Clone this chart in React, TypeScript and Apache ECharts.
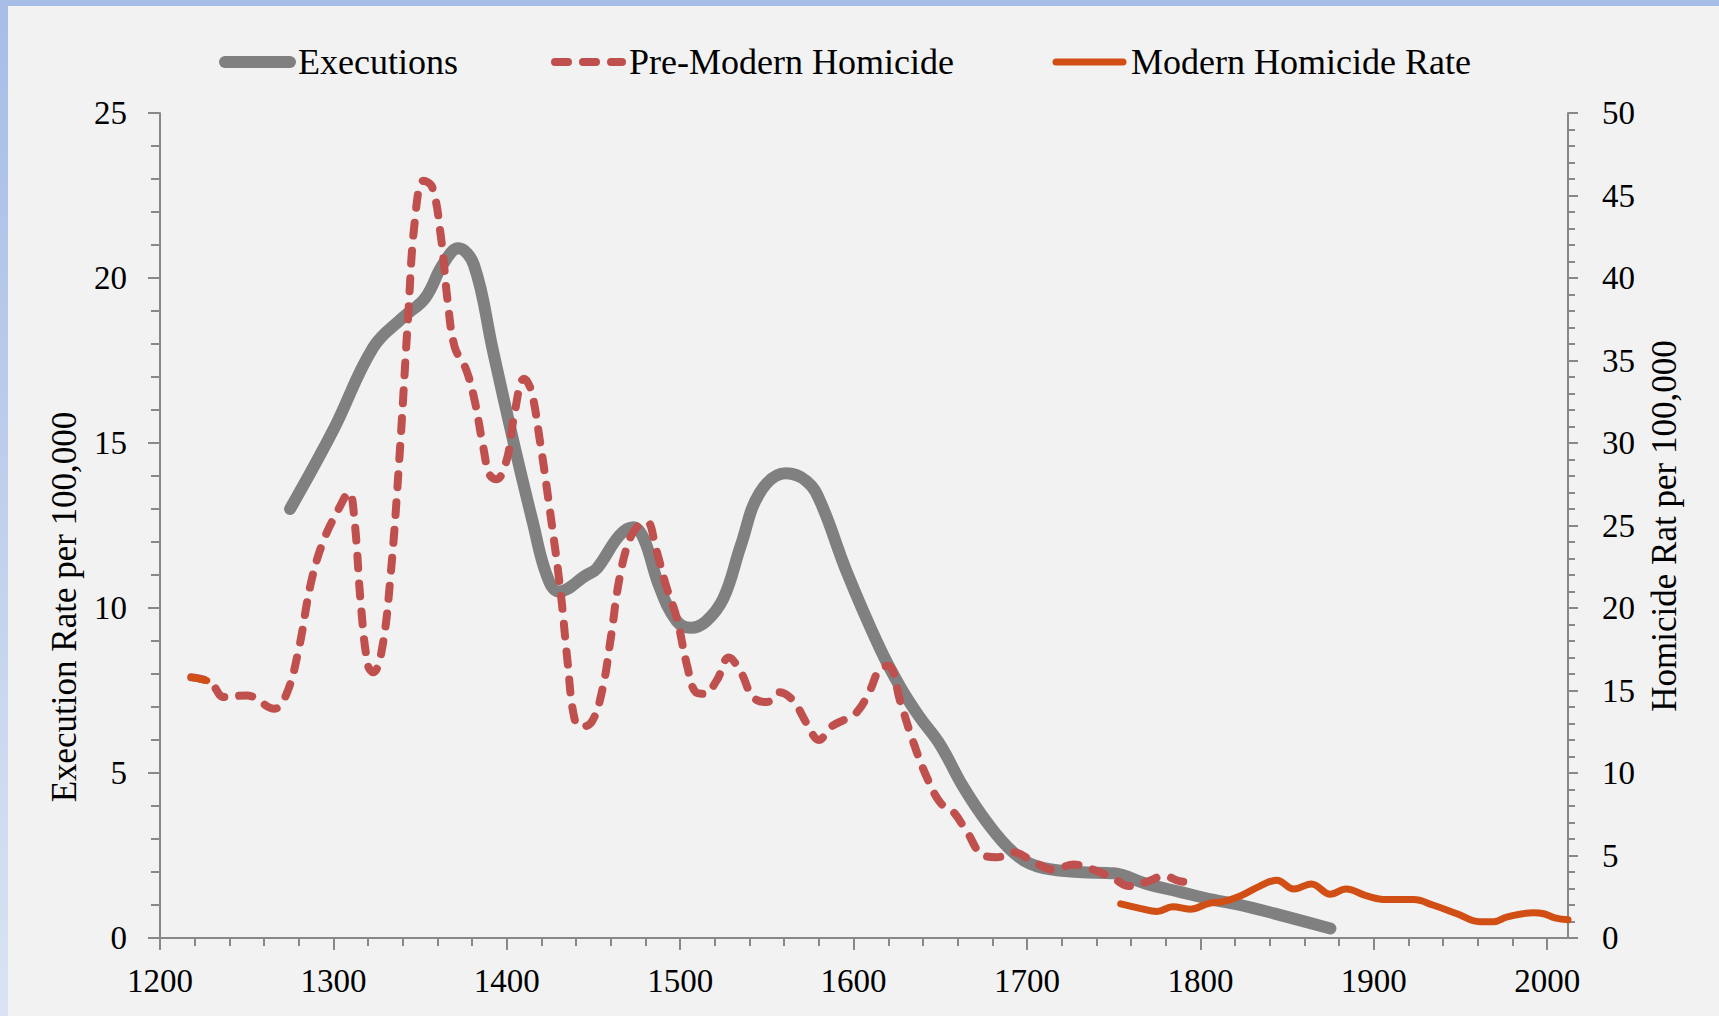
import React, { useEffect, useRef } from "react";
import * as echarts from "echarts";

const W = 1719;
const H = 1016;

const xMajorTicks = [1200, 1300, 1400, 1500, 1600, 1700, 1800, 1900, 2000];
const xMinorTicks = [
  1220, 1240, 1260, 1280, 1320, 1340, 1360, 1380, 1420, 1440, 1460, 1480,
  1520, 1540, 1560, 1580, 1620, 1640, 1660, 1680, 1720, 1740, 1760, 1780,
  1820, 1840, 1860, 1880, 1920, 1940, 1960, 1980,
];

const legendNames = ["Executions", "Pre-Modern Homicide", "Modern Homicide Rate"];
const leftAxisTitle = "Execution Rate per 100,000";
const rightAxisTitle = "Homicide Rat per 100,000";

const executionYears = [
  1275, 1300, 1323, 1340, 1353, 1363, 1372, 1381, 1392, 1404, 1415, 1423, 1430,
  1446, 1452, 1465, 1473, 1479, 1488, 1498, 1506, 1515, 1525, 1535, 1546, 1561,
  1573, 1581, 1596, 1615, 1627, 1638, 1650, 1663, 1677, 1692, 1706, 1730, 1750,
  1769, 1788, 1807, 1823, 1850, 1875,
];
const executionRates = [
  13.0, 15.4, 17.9, 18.8, 19.4, 20.4, 20.9, 20.4, 17.8, 15.0, 12.6, 11.0, 10.5,
  11.0, 11.2, 12.2, 12.45, 12.1, 10.65, 9.6, 9.4, 9.6, 10.3, 11.9, 13.5, 14.08,
  13.84, 13.2, 11.1, 8.8, 7.6, 6.7, 5.85, 4.6, 3.5, 2.6, 2.17, 2.0, 1.96, 1.64,
  1.4, 1.16, 1.0, 0.64, 0.29,
];

const preModernYears = [
  1218, 1229, 1237, 1250, 1266, 1273, 1280, 1287, 1294, 1303, 1309, 1312, 1316,
  1320, 1323, 1328, 1333, 1338, 1343, 1347, 1352, 1357, 1362, 1366, 1370, 1376,
  1381, 1386, 1390, 1394, 1400, 1404, 1410, 1414, 1419, 1425, 1431, 1435, 1439,
  1443, 1449, 1455, 1460, 1465, 1471, 1477, 1481, 1486, 1492, 1498, 1504, 1509,
  1514, 1521, 1528, 1535, 1542, 1550, 1557, 1565, 1573, 1580, 1587, 1596, 1602,
  1609, 1615, 1620, 1627, 1634, 1642, 1650, 1657, 1665, 1675, 1683, 1692, 1704,
  1715, 1727, 1738, 1750, 1759, 1769, 1779, 1788, 1796,
];
const preModernRates = [
  15.8, 15.5, 14.6, 14.7, 13.9, 14.8, 17.5, 21.5, 24.0, 26.0, 27.0, 25.5, 20.0,
  16.5, 16.1, 17.5, 22.0, 29.0, 37.5, 43.5, 45.9, 45.5, 42.5, 38.5, 35.8, 34.6,
  32.8, 30.0, 28.1, 27.8, 29.0, 31.5, 33.9, 33.2, 30.2, 25.8, 21.0, 16.8, 13.3,
  12.8, 13.1, 15.0, 18.2, 21.8, 24.2, 25.1, 25.2, 23.6, 21.3, 19.4, 16.5, 14.9,
  14.8, 15.6, 17.0, 16.1, 14.6, 14.3, 14.9, 14.4, 13.0, 12.0, 12.8, 13.3, 13.7,
  14.9, 16.3, 16.5, 14.3, 12.0, 9.8, 8.2, 7.7, 6.5, 5.0, 4.9, 5.2, 4.6, 4.15,
  4.45, 4.15, 3.6, 3.15, 3.4, 3.75, 3.45, 3.35,
];

const modernStubYears = [1218, 1227];
const modernStubRates = [15.8, 15.6];

const modernYears = [
  1754, 1765, 1775, 1784, 1794, 1805, 1813, 1823, 1834, 1844, 1854, 1864, 1875,
  1884, 1896, 1907, 1923, 1934, 1948, 1961, 1969, 1977, 1992, 1998, 2005, 2012,
];
const modernRates = [
  2.07, 1.8, 1.6, 1.9, 1.75, 2.1, 2.2, 2.55, 3.13, 3.5, 2.97, 3.28, 2.65, 2.97,
  2.55, 2.33, 2.33, 2.0, 1.47, 0.99, 0.99, 1.28, 1.53, 1.47, 1.21, 1.1,
];

const pair = (xs: number[], ys: number[]) => xs.map((x, i) => [x, ys[i]]);

const FONT = "Liberation Serif";
const AXIS_COLOR = "#888888";
const GRAY = "#808080";
const RED = "#c0504d";
const ORANGE = "#d14f14";
const DASH = [13, 15];

export default function App() {
  const ref = useRef<HTMLDivElement>(null);

  useEffect(() => {
    if (!ref.current) return;
    const chart = echarts.init(ref.current, null, { renderer: "svg", width: W, height: H });

    const axisLine = { show: true, lineStyle: { color: AXIS_COLOR, width: 2 } };
    const tickStyle = { color: AXIS_COLOR, width: 2 };
    const labelStyle = { color: "#000", fontFamily: FONT, fontSize: 33 };
    const plain = (v: number) => String(v);

    const option: any = {
      animation: false,
      backgroundColor: "#f2f2f2",
      grid: { left: 160, right: W - 1568, top: 113, bottom: H - 938, containLabel: false },
      xAxis: [
        {
          type: "value",
          min: 1200,
          max: 2012,
          interval: 100,
          position: "bottom",
          axisLine,
          axisTick: { show: true, length: 12, lineStyle: tickStyle, customValues: xMajorTicks },
          axisLabel: { ...labelStyle, margin: 26, customValues: xMajorTicks, formatter: plain },
          splitLine: { show: false },
        },
        {
          type: "value",
          min: 1200,
          max: 2012,
          interval: 100,
          position: "bottom",
          axisLine: { show: false },
          axisTick: { show: true, length: 8, lineStyle: tickStyle, customValues: xMinorTicks },
          axisLabel: { show: false },
          splitLine: { show: false },
        },
      ],
      yAxis: [
        {
          type: "value",
          min: 0,
          max: 25,
          interval: 5,
          position: "left",
          axisLine,
          axisTick: { show: true, length: 12, lineStyle: tickStyle },
          minorTick: { show: true, splitNumber: 5, length: 9, lineStyle: tickStyle },
          axisLabel: { ...labelStyle, margin: 33, formatter: plain },
          splitLine: { show: false },
          minorSplitLine: { show: false },
        },
        {
          type: "value",
          min: 0,
          max: 50,
          interval: 5,
          position: "right",
          axisLine,
          axisTick: { show: true, length: 10, lineStyle: tickStyle },
          minorTick: { show: true, splitNumber: 5, length: 7, lineStyle: tickStyle },
          axisLabel: { ...labelStyle, margin: 34, formatter: plain },
          splitLine: { show: false },
          minorSplitLine: { show: false },
        },
      ],
      series: [
        {
          name: legendNames[0],
          type: "line",
          yAxisIndex: 0,
          data: pair(executionYears, executionRates),
          smooth: 0.4,
          symbol: "none",
          lineStyle: { color: GRAY, width: 12, cap: "round", join: "round" },
          z: 2,
        },
        {
          name: legendNames[1],
          type: "line",
          yAxisIndex: 1,
          data: pair(preModernYears, preModernRates),
          smooth: 0.4,
          symbol: "none",
          lineStyle: { color: RED, width: 8, type: DASH, cap: "round", join: "round" },
          z: 3,
        },
        {
          name: legendNames[2],
          type: "line",
          yAxisIndex: 1,
          data: pair(modernYears, modernRates),
          smooth: 0.4,
          symbol: "none",
          lineStyle: { color: ORANGE, width: 7, cap: "round", join: "round" },
          z: 4,
        },
        {
          name: legendNames[2] + " ",
          type: "line",
          yAxisIndex: 1,
          data: pair(modernStubYears, modernStubRates),
          smooth: 0.4,
          symbol: "none",
          lineStyle: { color: ORANGE, width: 7, cap: "round" },
          z: 4,
        },
      ],
      graphic: [
        { type: "rect", shape: { x: 0, y: 0, width: W, height: 6 }, style: { fill: "#a6bde7" }, silent: true },
        {
          type: "rect",
          shape: { x: 0, y: 0, width: 8, height: H },
          style: {
            fill: new echarts.graphic.LinearGradient(0, 0, 0, 1, [
              { offset: 0, color: "#a6bde7" },
              { offset: 1, color: "#d9e3f3" },
            ]),
          },
          silent: true,
        },
        // legend
        { type: "line", shape: { x1: 225, y1: 62, x2: 290, y2: 62 }, style: { stroke: GRAY, lineWidth: 12, lineCap: "round" } },
        { type: "text", x: 298, y: 62, style: { text: legendNames[0], fontSize: 36, fontFamily: FONT, fill: "#000", verticalAlign: "middle", align: "left" } },
        { type: "line", shape: { x1: 555, y1: 62, x2: 622, y2: 62 }, style: { stroke: RED, lineWidth: 8, lineCap: "round", lineDash: DASH } },
        { type: "text", x: 629, y: 62, style: { text: legendNames[1], fontSize: 36, fontFamily: FONT, fill: "#000", verticalAlign: "middle", align: "left" } },
        { type: "line", shape: { x1: 1056, y1: 62, x2: 1123, y2: 62 }, style: { stroke: ORANGE, lineWidth: 7, lineCap: "round" } },
        { type: "text", x: 1131, y: 62, style: { text: legendNames[2], fontSize: 36, fontFamily: FONT, fill: "#000", verticalAlign: "middle", align: "left" } },
        // axis titles
        { type: "text", x: 64, y: 607, rotation: Math.PI / 2, style: { text: leftAxisTitle, fontSize: 35, fontFamily: FONT, fill: "#000", verticalAlign: "middle", align: "center" } },
        { type: "text", x: 1664, y: 526, rotation: Math.PI / 2, style: { text: rightAxisTitle, fontSize: 35, fontFamily: FONT, fill: "#000", verticalAlign: "middle", align: "center" } },
      ],
    };

    chart.setOption(option);
    return () => chart.dispose();
  }, []);

  return (
    <div
      ref={ref}
      style={{ position: "fixed", left: 0, top: 0, width: W, height: H }}
    />
  );
}
